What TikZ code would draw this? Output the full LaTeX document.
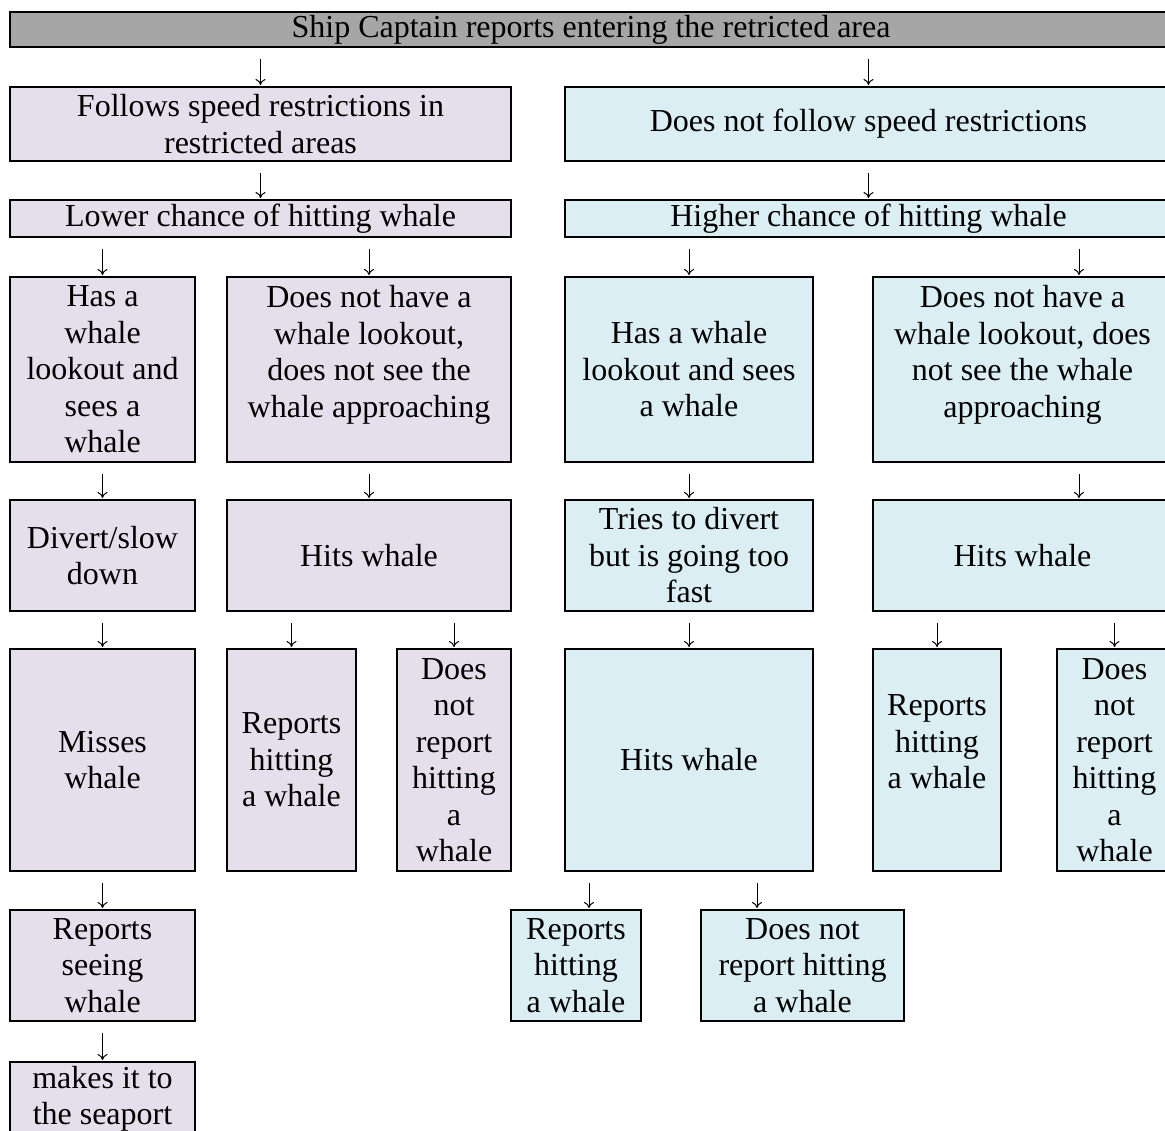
\documentclass[tikz,border=0pt]{standalone}
\usepackage{fontspec}
\setmainfont{Liberation Serif}
\usetikzlibrary{arrows.meta}
\definecolor{lav}{HTML}{E5DFEC}
\definecolor{aqua}{HTML}{DAEEF3}
\definecolor{topgray}{HTML}{A6A6A6}
\tikzset{
  base/.style={draw=black, line width=1pt, align=center, inner sep=0pt, outer sep=0pt,
    font=\fontsize{16}{18.25}\selectfont},
  lbox/.style={base, fill=lav},
  rbox/.style={base, fill=aqua},
  gbox/.style={base, fill=topgray},
  wh/.style 2 args={minimum width=#1*0.5pt, minimum height=#2*0.5pt},
  arr/.style={line width=0.5pt, -{To[length=3pt,width=5pt]}, shorten <=6pt, shorten >=1pt}
}
\begin{document}
\begin{tikzpicture}[x=0.5pt,y=-0.5pt]
\clip (0,0) rectangle (1165,1130);
\fill[white] (0,0) rectangle (1165,1130);
% top
\node[gbox, wh={1162}{35}] (top) at (591,29.5) {Ship Captain reports entering the retricted area};
% row 2
\node[lbox, wh={501}{74}] (fol) at (260.5,124) {Follows speed restrictions in\\restricted areas};
\node[rbox, wh={607}{74}] (nfol) at (868.5,124) {Does not follow speed restrictions};
% row 3
\node[lbox, wh={501}{37}] (low) at (260.5,218.5) {Lower chance of hitting whale};
\node[rbox, wh={607}{37}] (high) at (868.5,218.5) {Higher chance of hitting whale};
% row 4
\node[lbox, wh={185}{185}] (la) at (102.5,369.5) {Has a\\whale\\lookout and\\sees a\\whale};
\node[lbox, wh={284}{185}] (lb) at (369,369.5) {Does not have a\\whale lookout,\\does not see the\\whale approaching\\\mbox{}};
\node[rbox, wh={248}{185}] (rc) at (689,369.5) {Has a whale\\lookout and sees\\a whale};
\node[rbox, wh={299}{185}] (rd) at (1022.5,369.5) {Does not have a\\whale lookout, does\\not see the whale\\approaching\\\mbox{}};
% row 5
\node[lbox, wh={185}{111}] (div) at (102.5,555.5) {Divert/slow\\down};
\node[lbox, wh={284}{111}] (hitl) at (369,555.5) {Hits whale};
\node[rbox, wh={248}{111}] (tries) at (689,555.5) {Tries to divert\\but is going too\\fast};
\node[rbox, wh={299}{111}] (hitr) at (1022.5,555.5) {Hits whale};
% row 6
\node[lbox, wh={185}{222}] (miss) at (102.5,760) {Misses\\whale};
\node[lbox, wh={129}{222}] (repl) at (291.5,760) {Reports\\hitting\\a whale};
\node[lbox, wh={114}{222}] (dnl) at (454,760) {Does\\not\\report\\hitting\\a\\whale};
\node[rbox, wh={248}{222}] (hitc) at (689,760) {Hits whale};
\node[rbox, wh={128}{222}] (repr) at (937,760) {Reports\\hitting\\a whale\\\mbox{}};
\node[rbox, wh={115}{222}] (dnr) at (1114.5,760) {Does\\not\\report\\hitting\\a\\whale};
% row 7
\node[lbox, wh={185}{111}] (see) at (102.5,965.5) {Reports\\seeing\\whale};
\node[rbox, wh={130}{111}] (repm) at (576,965.5) {Reports\\hitting\\a whale};
\node[rbox, wh={203}{111}] (dnm) at (802.5,965.5) {Does not\\report hitting\\a whale};
% row 8
\node[lbox, wh={185}{74}] (port) at (102.5,1099) {makes it to\\the seaport};
% offset arrow targets
\coordinate (rdin) at ([xshift=28.25pt]rd.north);
\coordinate (hitrin) at ([xshift=28.25pt]hitr.north);
\coordinate (repmin) at ([xshift=6.5pt]repm.north);
\coordinate (dnmin) at ([xshift=-22.75pt]dnm.north);
% connectors
\draw[arr] (top.south -| fol.north) -- (fol.north);
\draw[arr] (top.south -| nfol.north) -- (nfol.north);
\draw[arr] (fol.south) -- (low.north);
\draw[arr] (nfol.south) -- (high.north);
\draw[arr] (low.south -| la.north) -- (la.north);
\draw[arr] (low.south -| lb.north) -- (lb.north);
\draw[arr] (high.south -| rc.north) -- (rc.north);
\draw[arr] (high.south -| rdin) -- (rdin);
\draw[arr] (la.south) -- (div.north);
\draw[arr] (lb.south) -- (hitl.north);
\draw[arr] (rc.south) -- (tries.north);
\draw[arr] (rd.south -| hitrin) -- (hitrin);
\draw[arr] (div.south) -- (miss.north);
\draw[arr] (hitl.south -| repl.north) -- (repl.north);
\draw[arr] (hitl.south -| dnl.north) -- (dnl.north);
\draw[arr] (tries.south) -- (hitc.north);
\draw[arr] (hitr.south -| repr.north) -- (repr.north);
\draw[arr] (hitr.south -| dnr.north) -- (dnr.north);
\draw[arr] (miss.south) -- (see.north);
\draw[arr] (hitc.south -| repmin) -- (repmin);
\draw[arr] (hitc.south -| dnmin) -- (dnmin);
\draw[arr] (see.south) -- (port.north);
\end{tikzpicture}
\end{document}
